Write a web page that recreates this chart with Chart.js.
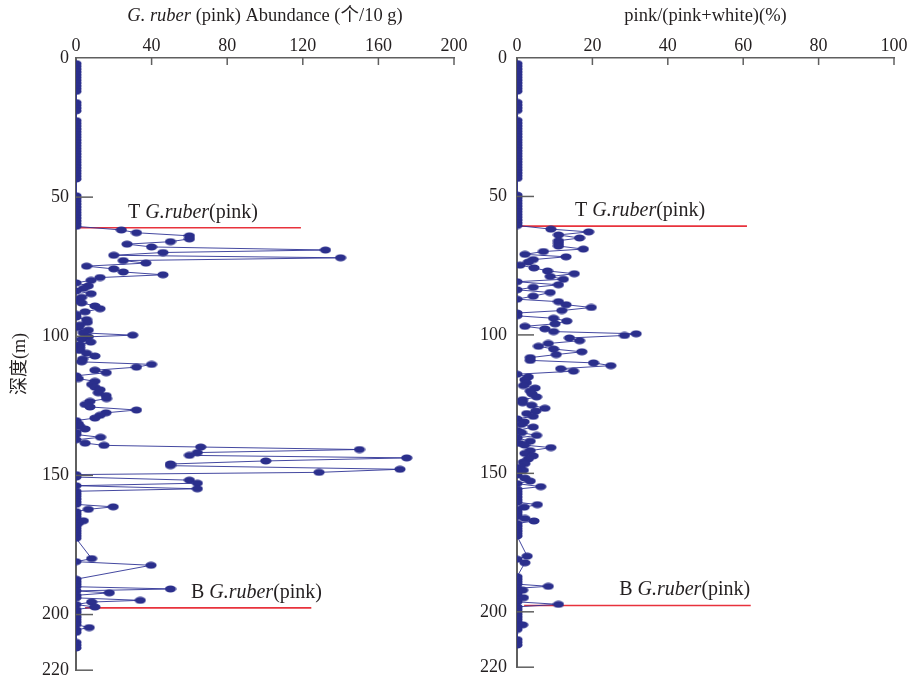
<!DOCTYPE html>
<html>
<head>
<meta charset="utf-8">
<script src="https://cdn.jsdelivr.net/npm/chart.js@4"></script>
<style>
  body { margin: 0; background: #fff; }
  #wrap { position: relative; width: 910px; height: 677px; overflow: hidden; }
  canvas { position: absolute; top: 0; }
</style>
</head>
<body>
<div id="wrap">
  <canvas id="left" width="470" height="688" style="left:0"></canvas>
  <canvas id="right" width="470" height="688" style="left:440px"></canvas>
</div>
<script>
// depth (m) of each sample, shared by both panels
const depth = [
  2, 3, 4, 5, 6, 7, 8, 9, 10, 11, 12,
  16, 17, 18, 19,
  22.5, 23.5, 24.5, 25.5, 26.5, 27.5, 28.5, 29.5, 30.5, 31.5, 32.5, 33.5, 34.5, 35.5, 36.5, 37.5, 38.5, 39.5, 40.5, 41.5, 42.5, 43.5,
  49.5, 50.5, 51.5, 52.5, 53.5, 54.5, 55.5, 56.5, 57.5, 58.5, 59.5, 60.5,
  61.8, 62.8, 63.9, 65.0, 66.0, 66.9, 67.9, 69.0, 69.9, 70.9, 71.8, 72.8, 73.7, 74.8, 75.8, 76.9, 77.9, 78.9, 79.9,
  80.8, 81.9, 82.8, 83.7, 84.7, 86.0, 87.1, 88.0, 89.1, 90.1, 91.2, 92.1, 93.1, 94.0, 95.0, 96.0, 96.9, 97.8, 98.8, 99.6,
  100.2, 101.1, 102.1, 103.1, 104.1, 105.1, 106.1, 107.1, 108.2, 109.2, 110.1, 111.1, 112.2, 113.1, 114.2, 115.2, 116.2, 117.3, 118.3, 119.2,
  120.3, 121.3, 122.4, 123.4, 124.5, 125.4, 126.5, 127.5, 128.4, 129.4, 130.3, 131.4, 132.3, 133.3, 134.5, 135.3, 136.3, 137.2, 138.4, 139.2,
  139.8, 140.7, 141.8, 142.8, 143.7, 144.8, 145.9, 146.5, 147.8, 148.9, 149.7, 150.6, 151.7, 152.8, 153.7, 154.8, 155.7, 156.6, 157.5, 158.5,
  159.5, 160.4, 161.3, 162.2, 163.0, 163.9, 164.8, 165.6, 166.3, 167.2, 168.1, 169.0, 169.9, 170.8, 171.7, 172.6, 179.9, 181.0, 182.3,
  187.3, 188.2, 189.1, 190.0, 190.8, 191.5, 192.2, 193.1, 194.0, 194.9, 195.5, 196.4, 197.3, 198.2, 199.1, 200.0, 200.9, 201.8, 202.7, 203.6,
  204.7, 205.5, 206.4, 210.0, 211.0, 212.0
];

// G. ruber (pink) abundance (个/10 g)
const abundance = [
  0, 0, 0, 0, 0, 0, 0, 0, 0, 0, 0,
  0, 0, 0, 0,
  0, 0, 0, 0, 0, 0, 0, 0, 0, 0, 0, 0, 0, 0, 0, 0, 0, 0, 0, 0, 0, 0,
  0, 0, 0, 0, 0, 0, 0, 0, 0, 0, 0, 0,
  24, 32, 60, 60, 50, 27, 40, 132, 46, 20, 140, 25, 37, 5.6, 20, 25, 46, 12.7, 8,
  0, 6.5, 4, 0, 8, 3, 0, 3, 10, 12.7, 4.8, 0, 0, 5.6, 6, 2, 1.2, 6.5, 3.9, 30,
  6.5, 3, 7.8, 2, 2, 2, 5.6, 10, 3.5, 3, 40, 32, 10, 16, 0, 1.2, 10, 8.3, 10, 12.7,
  11.8, 15.9, 16.2, 7.4, 4.8, 7.4, 32, 15.9, 12.7, 10, 0, 1.2, 2, 4.8, 0, 0, 13, 0, 4.8, 14.8,
  66, 150, 64.2, 60, 175, 100.4, 50, 50, 171.4, 128.6, 0, 0, 60, 64.2, 0, 64.2, 0, 0, 0, 0,
  0, 0, 19.7, 6.5, 0, 0, 0, 0, 3.9, 1.2, 0, 0, 0, 0, 0, 0, 8.3, 0, 39.7,
  0, 0, 0, 0, 50, 0, 17.6, 0, 0, 34, 8.3, 0, 10, 0, 0, 0, 0, 0, 0, 0,
  7, 0, 0, 0, 0, 0
];

// pink/(pink+white) (%)
const pinkRatio = [
  0, 0, 0, 0, 0, 0, 0, 0, 0, 0, 0,
  0, 0, 0, 0,
  0, 0, 0, 0, 0, 0, 0, 0, 0, 0, 0, 0, 0, 0, 0, 0, 0, 0, 0, 0, 0, 0,
  0, 0, 0, 0, 0, 0, 0, 0, 0, 0, 0, 0,
  9, 19, 11, 16.6, 11, 11, 11, 17.6, 7, 2.1, 13, 4.3, 3, 0.8, 4.5, 8.1, 15.2, 8.8, 12.3,
  0, 11, 4.3, 0, 8.8, 4.3, 0, 11, 13, 19.7, 11.9, 0, 0, 9.7, 13.2, 10.1, 2.1, 7.4, 9.7, 31.6,
  28.5, 13.9, 16.6, 8.3, 5.7, 9.7, 17.2, 10.4, 3.5, 3.5, 20.3, 24.9, 11.6, 15, 0, 3, 2.1, 2.5, 1.7, 4.8,
  3.5, 4, 5.2, 1.5, 1.5, 3.9, 7.4, 5, 2.6, 4.3, 0, 1.9, 1.2, 4.3, 0, 1.2, 5.2, 0, 3.5, 0.8,
  2, 9, 3.5, 2.1, 4.3, 3, 1.7, 2.1, 0.8, 1.7, 0, 0, 2.1, 3.5, 0, 6.3, 0, 0, 0, 0,
  0, 0, 5.4, 1.9, 0, 0, 0, 0, 2.1, 4.5, 0, 0, 0, 0, 0, 0, 2.7, 0, 2.1,
  0, 0, 0, 0, 8.3, 0, 1.5, 0, 0, 1.7, 0, 0, 11, 0, 0, 0, 0, 0, 0, 0,
  1.5, 0, 0, 0, 0, 0
];

const depthTicks = [0, 50, 100, 150, 200, 220];

// T / B horizons: [depth, from, to] per panel
const horizonsLeft = [[61, 0, 119], [197.6, 4.8, 124.5]];
const horizonsRight = [[60.7, 0, 61], [197.7, 1.9, 62]];

const FONT = "'Liberation Serif', 'Times New Roman', 'Noto Sans CJK SC', serif";
const TEXT = '#231f20';
const AXIS = '#5f5f5f';
const DOT = '#2b2f8c';

function makeDot() {
    const c = document.createElement('canvas');
    c.width = 12;
    c.height = 8;
    const g = c.getContext('2d');
    g.fillStyle = DOT;
    g.beginPath();
    g.ellipse(6, 4, 5.6, 3.4, 0, 0, Math.PI * 2);
    g.fill();
    return c;
}
const dot = makeDot();

// draw a line of text made of plain and italic pieces
function drawRich(ctx, parts, x, y, align, size) {
    let w = 0;
    parts.forEach(p => {
        ctx.font = (p[1] ? 'italic ' : '') + size + 'px ' + FONT;
        w += ctx.measureText(p[0]).width;
    });
    let cx = align === 'center' ? x - w / 2 : x;
    ctx.textAlign = 'left';
    ctx.textBaseline = 'alphabetic';
    ctx.fillStyle = TEXT;
    parts.forEach(p => {
        ctx.font = (p[1] ? 'italic ' : '') + size + 'px ' + FONT;
        ctx.fillText(p[0], cx, y);
        cx += ctx.measureText(p[0]).width;
    });
}

function makeDecor(title, labels) {
    return {
        id: 'decor',
        afterDraw(chart) {
            const ctx = chart.ctx;
            const xs = chart.scales.x;
            const ys = chart.scales.y;
            const a = chart.chartArea;
            ctx.save();
            // tick marks pointing into the plot
            ctx.strokeStyle = AXIS;
            ctx.lineWidth = 1.5;
            depthTicks.forEach(v => {
                if (v === 0) return;
                const y = ys.getPixelForValue(v);
                ctx.beginPath();
                ctx.moveTo(a.left, y);
                ctx.lineTo(a.left + 17, y);
                ctx.stroke();
            });
            xs.ticks.forEach(t => {
                if (t.value === 0) return;
                const x = xs.getPixelForValue(t.value);
                ctx.beginPath();
                ctx.moveTo(x, a.top);
                ctx.lineTo(x, a.top + 7);
                ctx.stroke();
            });
            drawRich(ctx, title, (a.left + a.right) / 2, 21, 'center', 18.5);
            labels.forEach(l => {
                const x = xs.getPixelForValue(l.at);
                const y = ys.getPixelForValue(l.depth) - 10;
                drawRich(ctx, l.parts, x, y, 'left', 20);
            });
            ctx.restore();
        }
    };
}

function buildChart(id, values, horizons, xMax, xStep, yWidth, tickPad, yTitle, title, labels) {
    const points = depth.map((d, i) => ({ x: values[i], y: d }));
    const datasets = [{
        data: points,
        borderColor: 'rgba(48, 52, 150, 0.9)',
        borderWidth: 1,
        pointStyle: dot,
        pointRadius: 4,
        tension: 0,
        order: 0
    }];
    horizons.forEach(h => {
        datasets.push({
            data: [{ x: h[1], y: h[0] }, { x: h[2], y: h[0] }],
            borderColor: '#e8323c',
            borderWidth: 1.6,
            pointRadius: 0,
            order: 1
        });
    });

    return new Chart(id, {
        type: 'line',
        data: { datasets: datasets },
        options: {
            responsive: false,
            animation: false,
            devicePixelRatio: 1,
            indexAxis: 'y',
            layout: { padding: { top: 0, right: 16, bottom: 0, left: 0 } },
            plugins: { legend: { display: false }, tooltip: { enabled: false } },
            scales: {
                x: {
                    type: 'linear',
                    position: 'top',
                    min: 0,
                    max: xMax,
                    afterFit: s => { s.height = 58; },
                    ticks: { stepSize: xStep, padding: 1, color: TEXT, font: { family: FONT, size: 18 } },
                    grid: { display: true, drawOnChartArea: false, drawTicks: false },
                    border: { display: true, color: AXIS, width: 1.5 }
                },
                y: {
                    type: 'linear',
                    reverse: true,
                    min: 0,
                    max: 220,
                    afterBuildTicks: s => { s.ticks = depthTicks.map(v => ({ value: v })); },
                    afterFit: s => { s.width = yWidth; },
                    ticks: { padding: tickPad, color: TEXT, font: { family: FONT, size: 18 } },
                    grid: { display: true, drawOnChartArea: false, drawTicks: false },
                    border: { display: true, color: AXIS, width: 2 },
                    title: {
                        display: !!yTitle,
                        text: yTitle,
                        color: TEXT,
                        font: { family: FONT, size: 18 },
                        padding: { top: 9, bottom: 0 }
                    }
                }
            }
        },
        plugins: [makeDecor(title, labels)]
    });
}

buildChart('left', abundance, horizonsLeft, 200, 40, 76, 7, '深度(m)',
    [['G. ruber', true], [' (pink) Abundance (个/10 g)', false]],
    [
        { at: 27.5, depth: horizonsLeft[0][0], parts: [['T ', false], ['G.ruber', true], ['(pink)', false]] },
        { at: 60.8, depth: horizonsLeft[1][0], parts: [['B ', false], ['G.ruber', true], ['(pink)', false]] }
    ]);

buildChart('right', pinkRatio, horizonsRight, 100, 20, 77, 10, '',
    [['pink/(pink+white)(%)', false]],
    [
        { at: 15.4, depth: horizonsRight[0][0], parts: [['T ', false], ['G.ruber', true], ['(pink)', false]] },
        { at: 27.1, depth: horizonsRight[1][0], parts: [['B ', false], ['G.ruber', true], ['(pink)', false]] }
    ]);
</script>
</body>
</html>
